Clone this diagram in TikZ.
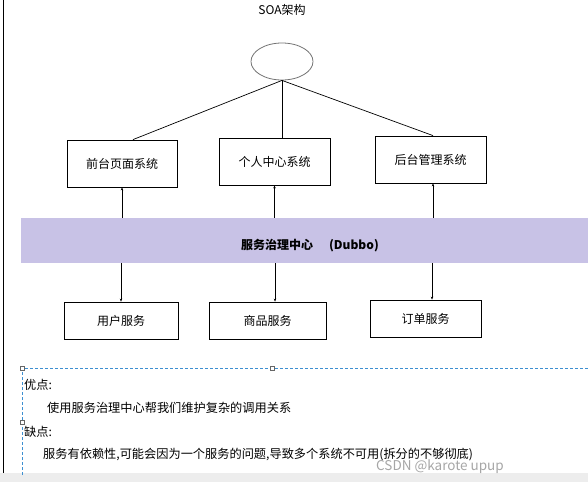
\documentclass[tikz,border=0pt]{standalone}
\usepackage{fontspec}
\setmainfont{Noto Sans CJK SC}
\usepackage{tikz}
\usetikzlibrary{shapes.geometric,arrows.meta}
\definecolor{bandpurple}{RGB}{200,194,230}
\definecolor{selblue}{RGB}{61,143,209}

\begin{document}
\begin{tikzpicture}[x=1pt,y=-1pt,
  sysbox/.style={rectangle,draw,line width=0.8pt,inner sep=0pt,minimum width=111pt,minimum height=47pt,font=\fontsize{12}{14}\selectfont},
  svcbox/.style={sysbox,minimum height=37pt},
  tip/.style={-{Stealth[length=3pt,width=2.5pt]},line width=0.6pt},
  note/.style={anchor=west,inner sep=0pt,font=\fontsize{12.2}{15}\selectfont}]
\useasboundingbox (0,0) rectangle (588,482);
\fill[black!7] (0,473) rectangle (588,482);
\draw[line width=1pt] (3,0) -- (3,473);

\node[font=\fontsize{12}{14}\selectfont] (title) at (282,10) {SOA架构};
\node[ellipse,draw=black!55,line width=0.8pt,minimum width=62pt,minimum height=37pt] (soa) at (282,61.5) {};

\node[sysbox,minimum width=110pt] (qt) at (122,163.5) {前台页面系统};
\node[sysbox] (gr) at (274.5,161.5) {个人中心系统};
\node[sysbox] (ht) at (430.5,159.5) {后台管理系统};

\node[fill=bandpurple,inner sep=0pt,minimum width=567pt,minimum height=45pt] (dubbo) at (304.5,240.5) {};
\node[font=\bfseries\fontsize{12}{14}\selectfont] (dubbotxt) at (310,246) {服务治理中心\hspace{16pt}(Dubbo)};

\node[svcbox,minimum width=114pt] (yh) at (121,320.5) {用户服务};
\node[svcbox,minimum width=117pt] (sp) at (267.5,320.5) {商品服务};
\node[svcbox] (dd) at (425.5,318.5) {订单服务};

\draw[line width=0.7pt] (soa.south) -- ([xshift=11pt]qt.north);
\draw[line width=0.7pt] (soa.south) -- (soa.south |- gr.north);
\draw[line width=0.7pt] (soa.south) -- ([xshift=2.5pt]ht.north);

\draw[tip] (qt.south |- dubbo.north) -- (qt.south);
\draw[tip] (gr.south |- dubbo.north) -- (gr.south);
\draw[tip] ([xshift=2.5pt]ht.south |- dubbo.north) -- ([xshift=2.5pt]ht.south);

\draw[tip] (dubbo.south -| yh.north) -- (yh.north);
\draw[tip] ([xshift=7.5pt]sp.north |- dubbo.south) -- ([xshift=7.5pt]sp.north);
\draw[tip] ([xshift=6.5pt]dd.north |- dubbo.south) -- ([xshift=6.5pt]dd.north);

\draw[selblue,line width=0.7pt,dash pattern=on 3pt off 2pt] (22,475) -- (22,368) -- (588,368);
\foreach \hx/\hy in {22/368,272/368,22/422}
  \draw[black!60,fill=white,line width=0.4pt] (\hx-1.8,\hy-1.8) rectangle (\hx+1.8,\hy+1.8);

\node[note] (good) at (24,385) {优点:};
\node[note] (goodtxt) at (47,408) {使用服务治理中心帮我们维护复杂的调用关系};
\node[note] (bad) at (24,432) {缺点:};
\node[note] (badtxt) at (43,455) {服务有依赖性,可能会因为一个服务的问题,导致多个系统不可用(拆分的不够彻底)};
\node[anchor=west,inner sep=0pt,text=black!35,font=\fontsize{13.5}{16}\selectfont] (mark) at (376,467) {CSDN @karote upup};
\end{tikzpicture}
\end{document}
